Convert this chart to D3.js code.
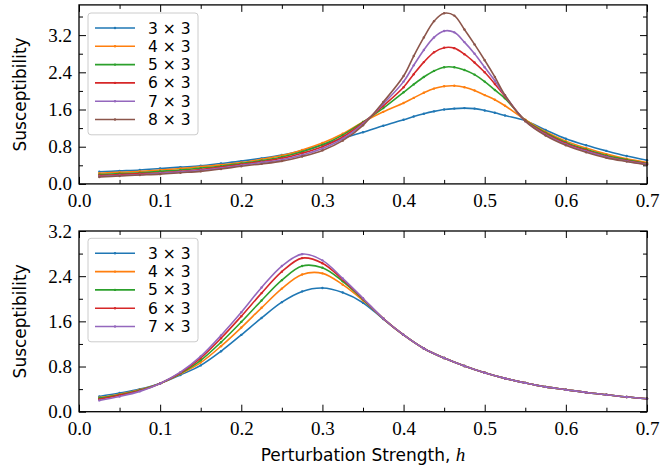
<!DOCTYPE html>
<html>
<head>
<meta charset="utf-8">
<script src="https://cdn.jsdelivr.net/npm/d3@7"></script>
<style>
  body { margin: 0; background: #fff; }
  svg { display: block; }
  .tick text { font-family: "Liberation Serif", "DejaVu Serif", serif; font-size: 19px; }
</style>
</head>
<body>
<script>
// perturbation strength h (top panel is sampled finer around the peak)
var hTop = [0.025,0.05,0.075,0.1,0.125,0.15,0.175,0.2,0.225,0.25,0.275,0.3,0.325,0.35,0.375,
            0.4,0.4125,0.425,0.4375,0.45,0.4625,0.475,0.4875,0.5,0.5125,0.525,
            0.55,0.575,0.6,0.625,0.65,0.675,0.7];
var top3x3 = [0.26,0.28,0.30,0.33,0.36,0.39,0.44,0.49,0.55,0.62,0.72,0.84,0.98,1.11,1.25,
              1.38,1.45,1.51,1.56,1.60,1.62,1.63,1.62,1.58,1.53,1.47,
              1.36,1.16,0.97,0.83,0.71,0.60,0.51];
var top4x3 = [0.23,0.25,0.27,0.30,0.33,0.37,0.41,0.46,0.53,0.61,0.73,0.88,1.08,1.33,1.55,
              1.74,1.85,1.96,2.05,2.10,2.11,2.08,2.01,1.91,1.81,1.68,
              1.38,1.12,0.92,0.77,0.64,0.54,0.46];
var top5x3 = [0.20,0.22,0.24,0.27,0.30,0.34,0.38,0.44,0.50,0.58,0.69,0.84,1.05,1.33,1.63,
              1.97,2.14,2.30,2.43,2.51,2.51,2.45,2.35,2.20,2.02,1.84,
              1.37,1.10,0.89,0.74,0.61,0.52,0.44];
var top6x3 = [0.18,0.20,0.22,0.24,0.27,0.31,0.36,0.42,0.48,0.55,0.66,0.80,1.01,1.31,1.68,
              2.08,2.36,2.62,2.83,2.93,2.92,2.79,2.61,2.40,2.15,1.88,
              1.36,1.08,0.87,0.72,0.59,0.50,0.43];
var top7x3 = [0.16,0.18,0.20,0.23,0.26,0.29,0.34,0.40,0.46,0.52,0.62,0.76,0.97,1.29,1.72,
              2.20,2.55,2.88,3.15,3.29,3.26,3.05,2.80,2.51,2.22,1.90,
              1.35,1.06,0.85,0.70,0.58,0.49,0.42];
var top8x3 = [0.15,0.17,0.19,0.21,0.24,0.27,0.32,0.38,0.43,0.49,0.59,0.72,0.93,1.26,1.76,
              2.32,2.75,3.15,3.50,3.67,3.62,3.32,3.00,2.66,2.30,1.91,
              1.35,1.04,0.83,0.68,0.56,0.48,0.41];

var hBot = [0.025,0.05,0.075,0.1,0.125,0.15,0.175,0.2,0.225,0.25,0.275,0.3,0.325,0.35,
            0.375,0.4,0.425,0.45,0.475,0.5,0.525,0.55,0.575,0.6,0.625,0.65,0.675,0.7];
var bot3x3 = [0.27,0.33,0.40,0.50,0.65,0.82,1.07,1.36,1.66,1.94,2.13,2.19,2.11,1.93,
              1.64,1.36,1.12,0.95,0.81,0.69,0.59,0.51,0.44,0.39,0.34,0.30,0.26,0.23];
var bot4x3 = [0.25,0.31,0.39,0.50,0.67,0.87,1.16,1.49,1.84,2.18,2.43,2.45,2.25,1.97,
              1.65,1.36,1.12,0.95,0.81,0.69,0.59,0.51,0.44,0.39,0.34,0.30,0.26,0.23];
var bot5x3 = [0.24,0.30,0.38,0.50,0.68,0.91,1.23,1.59,1.97,2.33,2.58,2.55,2.31,1.99,
              1.65,1.36,1.12,0.95,0.81,0.69,0.59,0.51,0.44,0.39,0.34,0.30,0.26,0.23];
var bot6x3 = [0.22,0.29,0.37,0.50,0.69,0.95,1.30,1.69,2.10,2.48,2.72,2.63,2.34,2.00,
              1.65,1.36,1.12,0.95,0.81,0.69,0.59,0.51,0.44,0.39,0.34,0.30,0.26,0.23];
var bot7x3 = [0.20,0.27,0.36,0.50,0.70,0.98,1.35,1.76,2.20,2.58,2.79,2.68,2.36,2.01,
              1.65,1.36,1.12,0.95,0.81,0.69,0.59,0.51,0.44,0.39,0.34,0.30,0.26,0.23];

var topLabels = ["3 × 3", "4 × 3", "5 × 3", "6 × 3", "7 × 3", "8 × 3"];
var botLabels = ["3 × 3", "4 × 3", "5 × 3", "6 × 3", "7 × 3"];
var colors = ["#1f77b4", "#ff7f0e", "#2ca02c", "#d62728", "#9467bd", "#8c564b"];

var xMajor = [0, 0.1, 0.2, 0.3, 0.4, 0.5, 0.6, 0.7];
var xMinor = [0.05, 0.15, 0.25, 0.35, 0.45, 0.55, 0.65];
var yMajor = [0, 0.8, 1.6, 2.4, 3.2];
var yMinorTop = [0.4, 1.2, 2.0, 2.8, 3.6];
var yMinorBot = [0.4, 1.2, 2.0, 2.8];

var serifFont = "'Liberation Serif', 'DejaVu Serif', serif";
var sansFont = "'DejaVu Sans', sans-serif";

var svg = d3.select("body").append("svg").attr("width", 664).attr("height", 470);

function drawPanel(p) {
  var x = d3.scaleLinear().domain([0, 0.7]).range([79, 647]);
  var y = d3.scaleLinear().domain(p.yDomain).range([p.bottom, p.top]);
  var g = svg.append("g");

  // inward ticks on all four sides
  function ticks(axis, tr, vals, len, labels) {
    var a = axis.tickValues(vals).tickSize(-len).tickSizeOuter(0);
    if (!labels) a.tickFormat("");
    var ax = g.append("g").attr("transform", tr).call(a);
    ax.attr("font-family", null).attr("font-size", null);
    ax.select(".domain").remove();
    ax.selectAll("line").attr("stroke", "#000").attr("stroke-width", 1);
    ax.selectAll("text").attr("fill", "#000");
    return ax;
  }
  var fmt = d3.format(".1f");
  ticks(d3.axisBottom(x).tickPadding(10).tickFormat(fmt), "translate(0," + p.bottom + ")", xMajor, 7, true);
  ticks(d3.axisBottom(x), "translate(0," + p.bottom + ")", xMinor, 4, false);
  ticks(d3.axisTop(x), "translate(0," + p.top + ")", xMajor, 7, false);
  ticks(d3.axisTop(x), "translate(0," + p.top + ")", xMinor, 4, false);
  ticks(d3.axisLeft(y).tickPadding(7).tickFormat(fmt), "translate(79,0)", yMajor, 7, true);
  ticks(d3.axisLeft(y), "translate(79,0)", p.yMinor, 4, false);
  ticks(d3.axisRight(y), "translate(647,0)", yMajor, 7, false);
  ticks(d3.axisRight(y), "translate(647,0)", p.yMinor, 4, false);

  // curves with small markers
  var line = d3.line()
    .x(function(d) { return x(d[0]); })
    .y(function(d) { return y(d[1]); })
    .curve(d3.curveCatmullRom.alpha(0.5));
  p.series.forEach(function(vals, i) {
    var pts = p.h.map(function(h, j) { return [h, vals[j]]; });
    g.append("path").attr("d", line(pts)).attr("fill", "none")
      .attr("stroke", colors[i]).attr("stroke-width", 1.6);
    g.selectAll(null).data(pts).enter().append("circle")
      .attr("cx", function(d) { return x(d[0]); })
      .attr("cy", function(d) { return y(d[1]); })
      .attr("r", 1.2).attr("fill", colors[i]);
  });

  // frame
  g.append("rect").attr("x", 79).attr("y", p.top).attr("width", 647 - 79)
    .attr("height", p.bottom - p.top).attr("fill", "none")
    .attr("stroke", "#000").attr("stroke-width", 1.3);

  g.append("text")
    .attr("transform", "translate(26," + ((p.top + p.bottom) / 2) + ") rotate(-90)")
    .attr("text-anchor", "middle")
    .style("font-family", sansFont).style("font-size", "17px")
    .text("Susceptibility");

  // legend
  var lg = g.append("g");
  lg.append("rect").attr("x", 88).attr("y", p.legY - 15).attr("width", 110)
    .attr("height", p.labels.length * 18.3 + 12).attr("rx", 3)
    .attr("fill", "#fff").attr("fill-opacity", 0.8)
    .attr("stroke", "#cccccc").attr("stroke-width", 1);
  p.labels.forEach(function(lab, i) {
    var ly = p.legY + i * 18.3;
    lg.append("line").attr("x1", 95).attr("x2", 135).attr("y1", ly).attr("y2", ly)
      .attr("stroke", colors[i]).attr("stroke-width", 1.6);
    lg.append("circle").attr("cx", 115).attr("cy", ly).attr("r", 1.2).attr("fill", colors[i]);
    lg.append("text").attr("x", 148).attr("y", ly).attr("dy", "0.36em")
      .style("font-family", sansFont).style("font-size", "15.5px").text(lab);
  });
}

drawPanel({
  h: hTop, series: [top3x3, top4x3, top5x3, top6x3, top7x3, top8x3],
  labels: topLabels, yDomain: [0, 3.85], top: 4.9, bottom: 183.9,
  yMinor: yMinorTop, legY: 28
});
drawPanel({
  h: hBot, series: [bot3x3, bot4x3, bot5x3, bot6x3, bot7x3],
  labels: botLabels, yDomain: [0, 3.2], top: 231, bottom: 411.7,
  yMinor: yMinorBot, legY: 253.3
});

var xl = svg.append("text").attr("x", 363).attr("y", 461)
  .attr("text-anchor", "middle")
  .style("font-family", sansFont).style("font-size", "17px");
xl.append("tspan").text("Perturbation Strength, ");
xl.append("tspan").style("font-family", serifFont).style("font-style", "italic")
  .style("font-size", "19px").text("h");
</script>
</body>
</html>
